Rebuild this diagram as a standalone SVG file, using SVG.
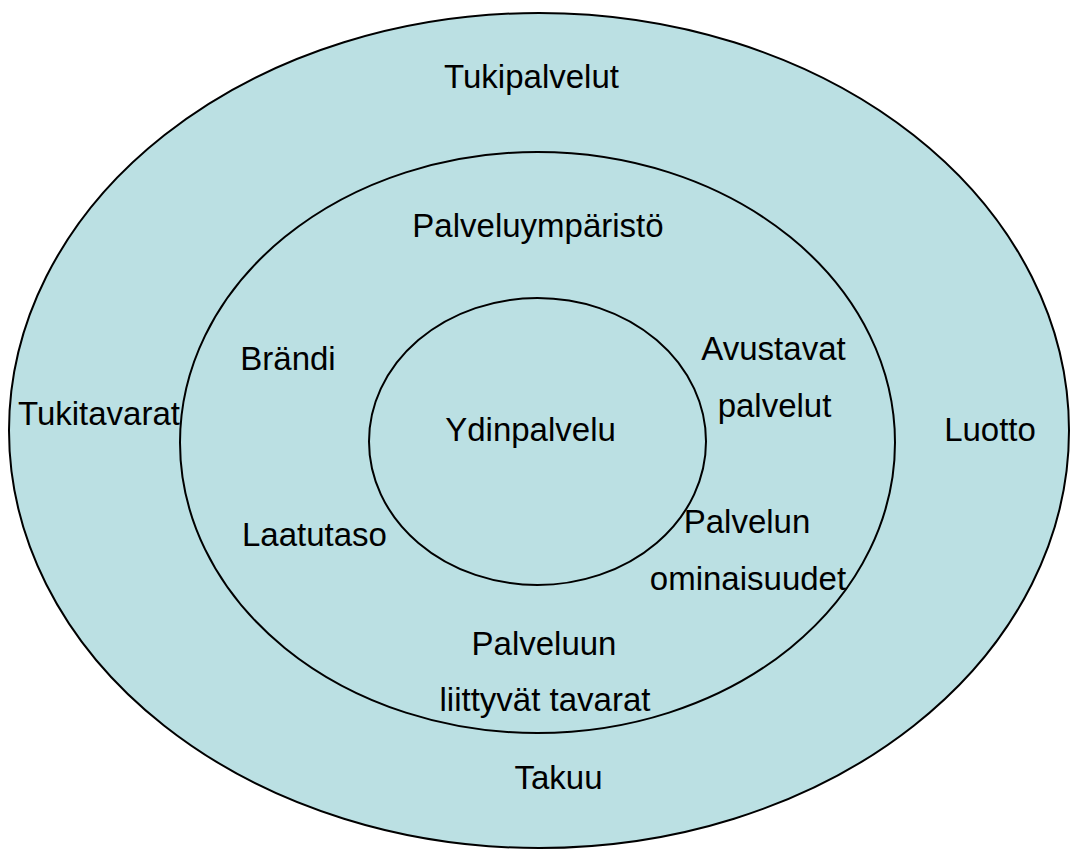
<svg xmlns="http://www.w3.org/2000/svg" width="1070" height="849" viewBox="0 0 1070 849">
<style>
.ring{fill:#BBE0E3;stroke:#000;stroke-width:2}
.ring2{fill:none;stroke:#000;stroke-width:2}
text{font-family:"Liberation Sans",Arial,sans-serif;font-size:33px;fill:#000;text-anchor:middle}
</style>
<rect width="1070" height="849" fill="#fff"/>
<g id="outer">
<ellipse class="ring" cx="539" cy="430.5" rx="530" ry="417.5"/>
<text x="531.5" y="88">Tukipalvelut</text>
<text x="99" y="425">Tukitavarat</text>
<text x="990" y="441">Luotto</text>
<text x="558.5" y="789">Takuu</text>
</g>
<g id="middle">
<ellipse class="ring2" cx="537.5" cy="442.5" rx="357.5" ry="290.5"/>
<text x="538" y="237">Palveluympäristö</text>
<text x="288" y="370">Brändi</text>
<text x="773.5" y="360">Avustavat</text>
<text x="774.5" y="417">palvelut</text>
<text x="314.5" y="546">Laatutaso</text>
<text x="747" y="533">Palvelun</text>
<text x="748" y="590">ominaisuudet</text>
<text x="544" y="655">Palveluun</text>
<text x="545" y="711">liittyvät tavarat</text>
</g>
<g id="inner">
<ellipse class="ring2" cx="537.5" cy="441.5" rx="168.5" ry="143.5"/>
<text x="530.5" y="441">Ydinpalvelu</text>
</g>
<g id="connectors"/>
</svg>
